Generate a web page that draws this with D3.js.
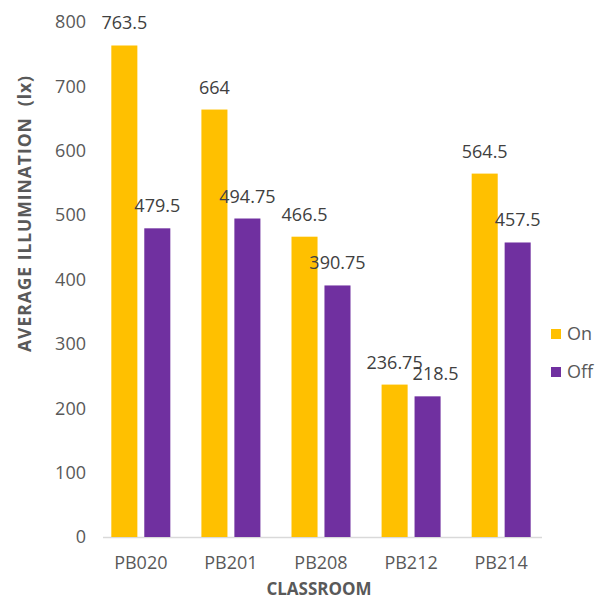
<!DOCTYPE html>
<html>
<head>
<meta charset="utf-8">
<script src="https://cdn.jsdelivr.net/npm/d3@7"></script>
<style>
  html, body { margin: 0; padding: 0; background: #fff; }
  svg { display: block; font-family: 'Open Sans', sans-serif; }
</style>
</head>
<body>
<svg id="chart" width="611" height="599"></svg>
<script>
// classrooms and average illumination (lx) with lights on / off
const classrooms = ['PB020', 'PB201', 'PB208', 'PB212', 'PB214']
const series = ['On', 'Off']
const onValues = [763.5, 664, 466.5, 236.75, 564.5]
const offValues = [479.5, 494.75, 390.75, 218.5, 457.5]
const yTicks = [0, 100, 200, 300, 400, 500, 600, 700, 800]
const colors = { On: '#FFC000', Off: '#7030A0' }

const svg = d3.select('#chart')

let x = d3.scaleBand().domain(classrooms).range([96, 546]).paddingInner(0.345).paddingOuter(0.17)
let x1 = d3.scaleBand().domain(series).range([0, x.bandwidth()]).paddingInner(0.21)
let y = d3.scaleLinear().domain([0, 800]).range([537, 22])

let rows = classrooms.map((c, i) => ({ room: c, On: onValues[i], Off: offValues[i] }))

// y tick labels (no gridlines)
svg.append('g')
  .selectAll('text')
  .data(yTicks)
  .join('text')
  .attr('x', 86)
  .attr('y', d => y(d))
  .attr('dy', '0.35em')
  .attr('text-anchor', 'end')
  .attr('font-size', 18)
  .attr('fill', '#595959')
  .text(d => d)

// baseline
svg.append('line')
  .attr('x1', 103).attr('x2', 542)
  .attr('y1', y(0) + 0.5).attr('y2', y(0) + 0.5)
  .attr('stroke', '#d9d9d9')
  .attr('stroke-width', 1.5)

// bars
let groups = svg.append('g')
  .selectAll('g')
  .data(rows)
  .join('g')
  .attr('transform', d => `translate(${x(d.room)},0)`)

groups.selectAll('rect')
  .data(d => series.map(s => ({ key: s, value: d[s] })))
  .join('rect')
  .attr('x', d => x1(d.key))
  .attr('width', x1.bandwidth())
  .attr('y', d => y(d.value))
  .attr('height', d => y(0) - y(d.value))
  .attr('fill', d => colors[d.key])

// data labels - the Off label is pushed right when it would run into the On label
groups.selectAll('text')
  .data(d => series.map(s => ({ key: s, value: d[s], crowded: s === 'Off' && d.On - d.Off < 30 })))
  .join('text')
  .attr('x', d => x1(d.key) + x1.bandwidth() / 2 + (d.crowded ? 8 : 0))
  .attr('y', d => y(d.value) - 16)
  .attr('text-anchor', 'middle')
  .attr('font-size', 18)
  .attr('fill', '#404040')
  .text(d => d.value)

// x labels
svg.append('g')
  .selectAll('text')
  .data(classrooms)
  .join('text')
  .attr('x', d => x(d) + x.bandwidth() / 2)
  .attr('y', 569)
  .attr('text-anchor', 'middle')
  .attr('font-size', 18)
  .attr('fill', '#595959')
  .text(d => d)

// axis titles
svg.append('text')
  .attr('x', 319)
  .attr('y', 595)
  .attr('text-anchor', 'middle')
  .attr('font-size', 17)
  .attr('font-weight', 'bold')
  .attr('fill', '#595959')
  .text('CLASSROOM')

svg.append('text')
  .attr('transform', 'translate(31,214) rotate(-90)')
  .attr('text-anchor', 'middle')
  .attr('font-size', 17.5)
  .attr('font-weight', 'bold')
  .attr('fill', '#595959')
  .attr('textLength', 276)
  .attr('lengthAdjust', 'spacing')
  .attr('xml:space', 'preserve')
  .text('AVERAGE ILLUMINATION  (lx)')

// legend
let legend = svg.append('g')
  .selectAll('g')
  .data(series)
  .join('g')
  .attr('transform', (d, i) => `translate(551,${329 + i * 38})`)

legend.append('rect')
  .attr('width', 10).attr('height', 10)
  .attr('fill', d => colors[d])

legend.append('text')
  .attr('x', 16)
  .attr('y', 5)
  .attr('dy', '0.35em')
  .attr('font-size', 18)
  .attr('fill', '#595959')
  .text(d => d)
</script>
</body>
</html>
